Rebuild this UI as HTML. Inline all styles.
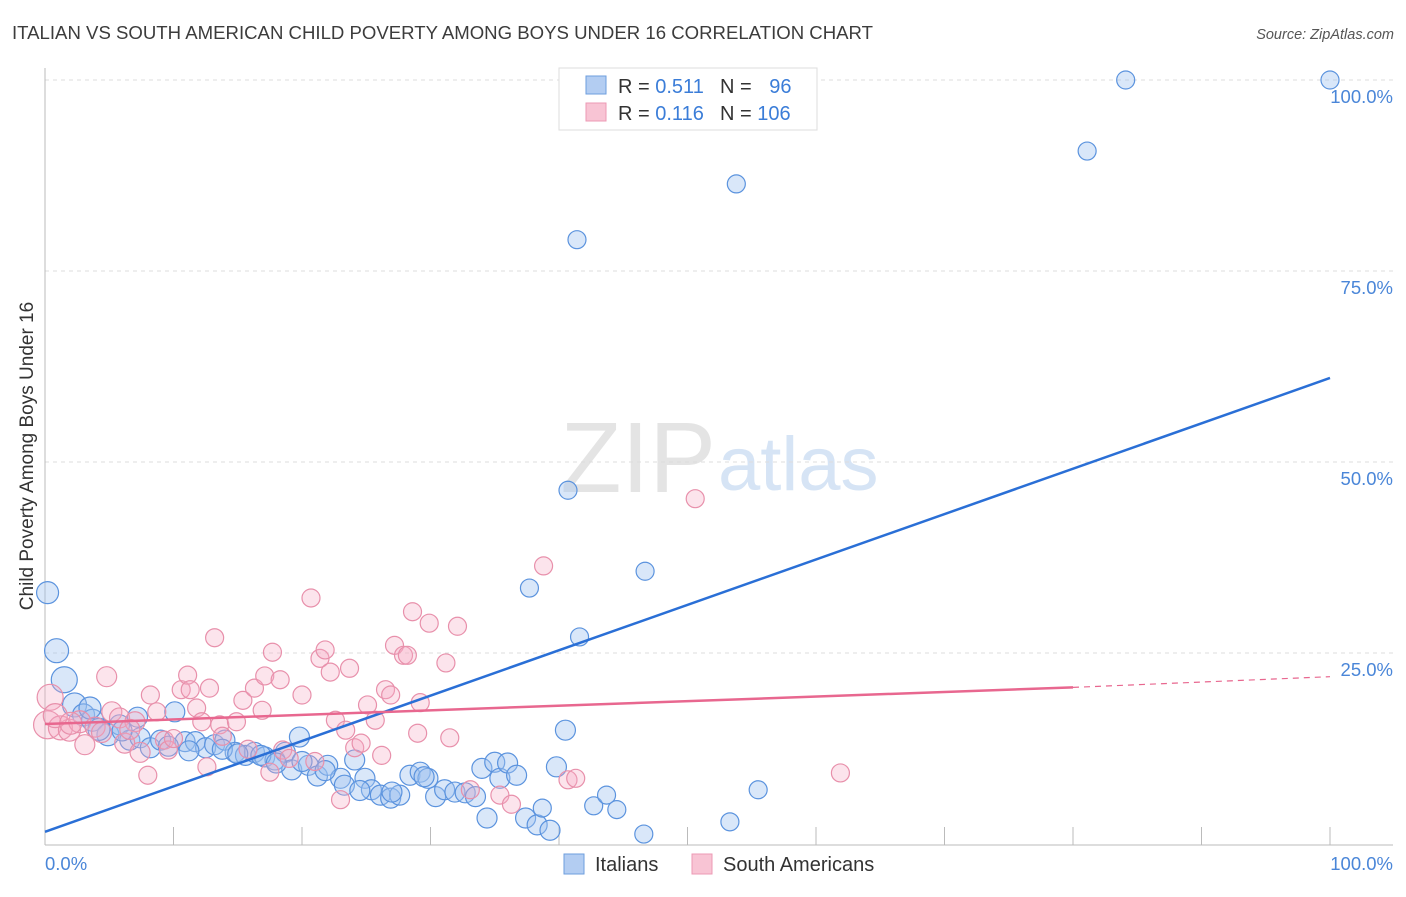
<!DOCTYPE html>
<html><head><meta charset="utf-8"><style>
body{margin:0;background:#fff;font-family:"Liberation Sans",sans-serif}
svg text{font-family:"Liberation Sans",sans-serif}
</style></head><body>
<svg width="1406" height="892" xmlns="http://www.w3.org/2000/svg">
<text x="12" y="39" font-size="18.6" fill="#3c3c3c">ITALIAN VS SOUTH AMERICAN CHILD POVERTY AMONG BOYS UNDER 16 CORRELATION CHART</text>
<text x="1394" y="39" font-size="14.5" fill="#555" font-style="italic" text-anchor="end">Source: ZipAtlas.com</text>
<text x="716" y="492" font-size="100" fill="#e4e4e4" text-anchor="end" font-family="Liberation Serif">ZIP</text>
<text x="718" y="490" font-size="76" fill="#d6e4f5">atlas</text>
<g id="grid"></g>
<g id="axes"></g>
<g id="marks"></g>
<g id="lines"></g>
<text transform="translate(33,456) rotate(-90)" font-size="19" fill="#333" text-anchor="middle">Child Poverty Among Boys Under 16</text>
<text x="45" y="870" font-size="18.5" fill="#4a86d8">0.0%</text>
<text x="1393" y="870" font-size="18.5" fill="#4a86d8" text-anchor="end">100.0%</text>
<g>
<rect x="559" y="68" width="258" height="62" fill="#fff" stroke="#ddd"/>
<rect x="586" y="76" width="20" height="18" fill="#b3cdf2" stroke="#6e9ede"/>
<rect x="586" y="103" width="20" height="18" fill="#f8c4d4" stroke="#ec9ab4"/>
<text x="618" y="93" font-size="20" fill="#333">R = <tspan fill="#3b7dd8">0.511</tspan></text>
<text x="720" y="93" font-size="20" fill="#333">N = <tspan fill="#3b7dd8" dx="12">96</tspan></text>
<text x="618" y="120" font-size="20" fill="#333">R = <tspan fill="#3b7dd8">0.116</tspan></text>
<text x="720" y="120" font-size="20" fill="#333">N = <tspan fill="#3b7dd8">106</tspan></text>
</g>
<g>
<rect x="564" y="854" width="20" height="20" fill="#b3cdf2" stroke="#6e9ede"/>
<text x="595" y="871" font-size="20" fill="#333">Italians</text>
<rect x="692" y="854" width="20" height="20" fill="#f8c4d4" stroke="#ec9ab4"/>
<text x="723" y="871" font-size="20" fill="#333">South Americans</text>
</g>
</svg>
<script>
const yTicks=[25,50,75,100];
const yTickLabels=["25.0%","50.0%","75.0%","100.0%"];
const xTicks=[10,20,30,40,50,60,70,80,90,100];
const blueX=[0.2,0.9,1.5,2.3,3.0,3.7,4.9,5.8,6.6,7.4,8.2,9.0,10.1,10.9,11.7,12.5,13.2,14.0,14.8,15.6,16.3,17.1,17.9,18.7,19.2,19.8,20.5,21.2,22.0,23.0,23.3,24.1,24.9,25.4,26.1,26.9,27.6,28.4,29.2,29.8,30.4,31.1,31.9,32.7,33.5,34.0,34.4,35.0,35.4,36.0,36.7,37.4,38.3,39.3,39.8,40.5,40.7,37.7,41.6,41.4,38.7,42.7,43.7,44.5,46.6,46.7,53.8,53.3,55.5,81.1,84.1,100,7.2,3.5,4.2,6.0,9.6,11.2,13.8,15.0,16.8,18.0,20.0,21.8,24.5,27.0,29.5];
const blueY=[32.9,25.3,21.5,18.2,16.9,16.2,14.3,15.6,13.6,13.9,12.6,13.6,17.3,13.4,13.4,12.6,13.0,13.6,12.0,11.6,12.0,11.4,11.0,12.0,9.7,14.0,10.3,8.9,10.3,8.6,7.7,11.0,8.6,7.1,6.4,6.0,6.4,9.0,9.4,8.6,6.2,7.1,6.8,6.7,6.2,9.9,3.4,10.7,8.6,10.6,9.0,3.4,2.5,1.8,10.1,14.9,46.3,33.5,27.1,79.1,4.7,5.0,6.4,4.5,1.3,35.7,86.4,2.9,7.1,90.7,100,100,16.6,17.8,15.0,14.8,12.8,12.2,12.4,11.8,11.6,10.6,10.8,9.6,7.0,6.8,8.8];
const blueR=[11,12,13,12,11,11,11,10,10,10,10,10,10,10,10,10,10,10,10,10,10,10,10,10,10,10,10,10,10,10,10,10,10,10,10,10,10,10,10,10,10,10,10,10,10,10,10,10,10,10,10,10,10,10,10,10,9,9,9,9,9,9,9,9,9,9,9,9,9,9,9,9,10,11,11,10,10,10,10,10,10,10,10,10,10,10,10];
const pinkX=[0.4,0.2,1.2,1.9,2.7,3.1,3.9,4.8,5.2,5.8,6.2,7.0,7.4,8.0,8.2,8.7,9.3,9.6,10.6,11.1,11.3,11.8,12.2,12.6,12.8,13.2,13.6,13.8,14.9,15.4,16.3,16.9,17.1,17.7,18.3,17.5,18.5,20.0,20.7,21.4,21.8,22.2,22.6,23.0,23.4,23.7,24.1,25.1,25.7,26.5,26.9,27.2,27.9,28.2,28.6,29.2,29.0,29.9,31.2,31.5,32.1,33.1,35.4,36.3,38.8,40.7,41.3,50.6,61.9,0.8,2.0,4.4,6.6,10.0,15.8,19.0,21.0,24.6,26.2];
const pinkY=[19.2,15.6,15.2,14.9,16.0,13.0,15.3,21.9,17.3,16.5,13.2,16.0,12.0,9.0,19.5,17.3,13.6,12.3,20.2,22.1,20.2,17.8,16.0,10.1,20.4,27.0,15.6,14.1,16.0,18.8,20.4,17.5,22.0,25.1,21.5,9.4,12.3,19.5,32.2,24.3,25.4,22.5,16.2,5.8,14.9,23.0,12.6,18.2,16.2,20.2,19.5,26.0,24.7,24.7,30.4,18.5,14.5,28.9,23.7,13.9,28.5,7.1,6.4,5.2,36.4,8.4,8.6,45.2,9.3,16.8,15.8,14.6,15.0,13.8,12.4,11.2,10.8,13.2,11.6];
const pinkR=[13,14,12,11,11,10,10,10,10,10,10,10,10,9,9,9,9,9,9,9,9,9,9,9,9,9,9,9,9,9,9,9,9,9,9,9,9,9,9,9,9,9,9,9,9,9,9,9,9,9,9,9,9,9,9,9,9,9,9,9,9,9,9,9,9,9,9,9,9,12,11,10,10,9,9,9,9,9,9];
const blueTrend=[1.6,61.0];
const pinkTrend=[15.7,20.5,21.9];
const X0=45,X1=1330,Y0=844,Y100=80;
const sx=v=>X0+(X1-X0)*v/100, sy=v=>Y0-(Y0-Y100)*v/100;
const NS="http://www.w3.org/2000/svg";
function mk(t,a,p){const e=document.createElementNS(NS,t);for(const k in a)e.setAttribute(k,a[k]);document.getElementById(p).appendChild(e);return e;}
yTicks.forEach((v,i)=>{
 const g=mk('line',{x1:X0,x2:1393,y1:sy(v),y2:sy(v),stroke:'#ddd','stroke-dasharray':'4,4'},'grid');
 
 
 const t=mk('text',{x:1393,y:sy(v)+23,'font-size':18.5,fill:'#4a86d8','text-anchor':'end'},'grid');
 t.textContent=yTickLabels[i];
 
 
});
const ax=mk('line',{x1:X0,x2:X0,y1:68,y2:845,stroke:'#bbb'},'axes');


const bx=mk('line',{x1:X0,x2:1393,y1:845,y2:845,stroke:'#bbb'},'axes');


xTicks.forEach(v=>{
 const t=mk('line',{x1:sx(v),x2:sx(v),y1:827,y2:845,stroke:'#bbb'},'axes');
 
 
});
blueX.forEach((x,i)=>{
 const c=mk('circle',{cx:sx(x),cy:sy(blueY[i]),r:blueR[i]||9,fill:'rgba(160,196,240,0.4)',stroke:'#5b93de','stroke-width':1.2},'marks');
 
 
});
pinkX.forEach((x,i)=>{
 const c=mk('circle',{cx:sx(x),cy:sy(pinkY[i]),r:pinkR[i]||9,fill:'rgba(245,170,195,0.32)',stroke:'#e890ab','stroke-width':1.2},'marks');
 
 
});
const bl=mk('line',{x1:sx(0),y1:sy(blueTrend[0]),x2:sx(100),y2:sy(blueTrend[1]),stroke:'#2a6fd6','stroke-width':2.5},'lines');


const pl=mk('line',{x1:sx(0),y1:sy(pinkTrend[0]),x2:sx(80),y2:sy(pinkTrend[1]),stroke:'#e8678f','stroke-width':2.5},'lines');


const pd=mk('line',{x1:sx(80),y1:sy(pinkTrend[1]),x2:sx(100),y2:sy(pinkTrend[2]),stroke:'#e8678f','stroke-width':1.2,'stroke-dasharray':'6,5'},'lines');


</script>
</body></html>
